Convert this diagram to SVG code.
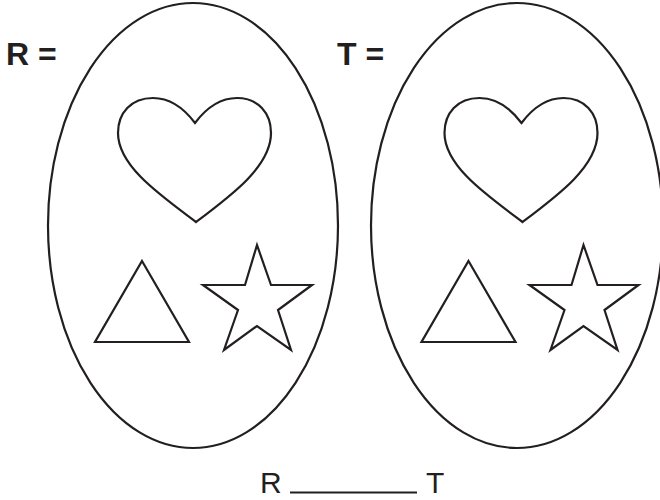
<svg xmlns="http://www.w3.org/2000/svg" width="660" height="500" viewBox="0 0 660 500">
<style>
.s{fill:none;stroke:#231f20;stroke-width:2.2;stroke-linejoin:miter}
.lb{font-family:"Liberation Sans",Arial,sans-serif;font-weight:bold;font-size:32px;fill:#231f20}
.lr{font-family:"Liberation Sans",Arial,sans-serif;font-size:30px;fill:#231f20}
</style>
<defs>
<g id="shapes">
<path class="s" d="M195,123 C183,107 170,98 153,98 C131,98 118,113 118,133 C118,166 160,195 196,222 C232,195 271,166 271,133 C271,113 258,98 237,98 C220,98 207,107 195,123 Z"/>
<polygon class="s" points="142,261 189,342 95,342"/>
<polygon class="s" points="257,245 245,285 203,285 238,310 224,350 257,326 291,350 278,310 312,285 271,285"/>
</g>
</defs>
<g id="R">
<text class="lb" x="6" y="65">R =</text>
<ellipse class="s" cx="193" cy="225.5" rx="145" ry="222.5"/>
<use href="#shapes"/>
</g>
<g id="T">
<text class="lb" x="337" y="65">T =</text>
<ellipse class="s" cx="517" cy="225.5" rx="146" ry="222.5"/>
<use href="#shapes" transform="translate(326.5,0)"/>
</g>
<g id="relation">
<text class="lr" x="260" y="493">R</text>
<line class="s" x1="290" y1="492.5" x2="417" y2="492.5"/>
<text class="lr" x="426" y="493">T</text>
</g>
</svg>
